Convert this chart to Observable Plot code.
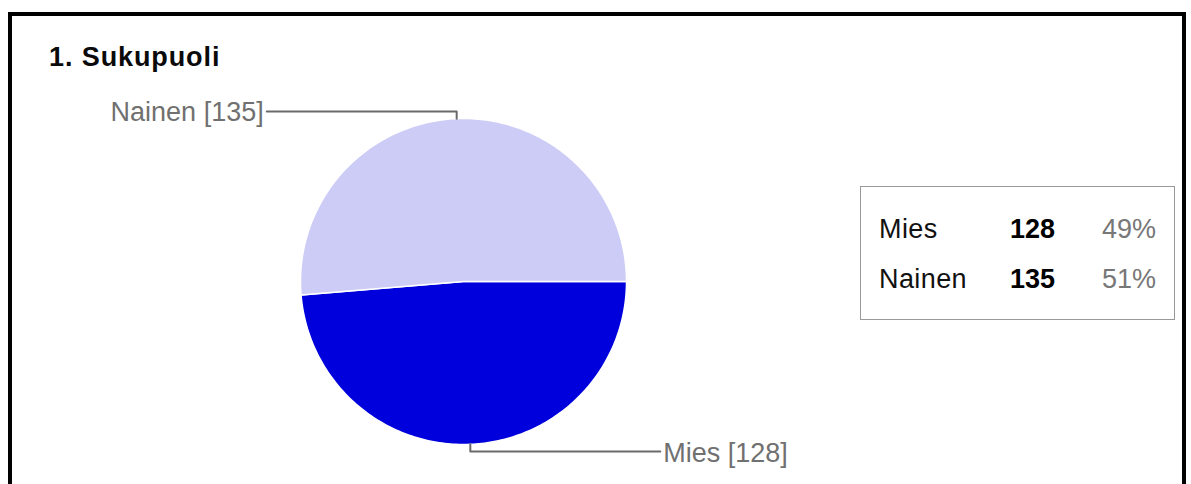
<!DOCTYPE html>
<html>
<head>
<meta charset="utf-8">
<script src="https://cdn.jsdelivr.net/npm/d3@7"></script>
<script src="https://cdn.jsdelivr.net/npm/@observablehq/plot@0.6"></script>
<style>
  html, body { margin: 0; padding: 0; background: #fff; }
  body { width: 1191px; height: 484px; overflow: hidden; position: relative; font-family: "Liberation Sans", Arial, sans-serif; }
  #frame { position: absolute; left: 8px; top: 12px; width: 1170px; height: 500px; border: 4px solid #000; border-bottom: none; }
  #title { position: absolute; left: 49px; top: 42px; font-size: 27px; font-weight: bold; color: #0a0a0a; letter-spacing: 0.9px; white-space: nowrap; }
  #chart { position: absolute; left: 0; top: 0; }
  #legend { position: absolute; left: 860px; top: 186px; width: 313px; height: 132px; border: 1px solid #999; background: #fff; }
  #legend table { position: absolute; left: 18px; top: 17px; border-collapse: collapse; font-size: 27px; }
  #legend td { padding: 0; height: 50px; white-space: nowrap; }
  #legend td.n { color: #111; width: 120px; letter-spacing: 0.4px; }
  #legend td.v { font-weight: bold; color: #000; text-align: right; width: 56px; }
  #legend td.p { color: #777; text-align: right; width: 101px; }
</style>
</head>
<body>
<div id="frame"></div>
<div id="title">1. Sukupuoli</div>
<div id="chart"></div>
<div id="legend"></div>
<script>
// ---- data ----
const categories = ["Mies", "Nainen"];
const counts = [128, 135];
const colors = ["#0000dd", "#ccccf6"];

// ---- layout ----
const W = 1191, H = 484;
const cx = 463, cy = 281, R = 163; // pie centre and radius in pixels

const total = d3.sum(counts);
// slices clockwise from 3 o'clock (math angle 0, decreasing)
let acc = 0;
const slices = categories.map((name, i) => {
  const a0 = -acc / total * 2 * Math.PI;
  acc += counts[i];
  const a1 = -acc / total * 2 * Math.PI;
  return {name, value: counts[i], color: colors[i], a0, a1, mid: (a0 + a1) / 2};
});

// polygon vertices for each slice (centre + arc)
function slicePoints(s) {
  const n = Math.max(2, Math.ceil(Math.abs(s.a1 - s.a0) / (Math.PI / 180)));
  const pts = [{x: 0, y: 0}];
  for (let k = 0; k <= n; k++) {
    const a = s.a0 + (s.a1 - s.a0) * k / n;
    pts.push({x: Math.cos(a), y: Math.sin(a)});
  }
  return pts;
}

// leader lines: from mid-angle point on circle, vertical to elbow, then horizontal outward
const elbowR = 170 / R, runLen = 190 / R;
const leaders = slices.map(s => {
  const ax = Math.cos(s.mid), ay = Math.sin(s.mid);
  const sy = Math.sign(ay), sx = ax < 0 ? -1 : 1;
  return {
    name: s.name, value: s.value, sx,
    pts: [{x: ax, y: ay}, {x: ax, y: sy * elbowR}, {x: ax + sx * runLen, y: sy * elbowR}],
    tx: ax + sx * (runLen + 3 / R), ty: sy * elbowR
  };
});
const leftLabels = leaders.filter(l => l.sx < 0);
const rightLabels = leaders.filter(l => l.sx > 0);
const labelText = d => `${d.name} [${d.value}]`;

const plot = Plot.plot({
  width: W, height: H,
  margin: 0,
  x: {domain: [-cx / R, (W - cx) / R], range: [0, W], axis: null},
  y: {domain: [-(H - cy) / R, cy / R], range: [H, 0], axis: null},
  style: {background: "transparent", fontFamily: "Liberation Sans, Arial, sans-serif"},
  marks: [
    ...slices.map(s => Plot.line(slicePoints(s), {x: "x", y: "y", curve: "linear-closed", fill: s.color, stroke: "#fff", strokeWidth: 1.5})),
    ...leaders.map(l => Plot.line(l.pts, {x: "x", y: "y", stroke: "#6a6a6a", strokeWidth: 2})),
    Plot.text(leftLabels, {x: "tx", y: "ty", text: labelText, textAnchor: "end", fill: "#707070", fontSize: 27, dy: 1}),
    Plot.text(rightLabels, {x: "tx", y: "ty", text: labelText, textAnchor: "start", fill: "#707070", fontSize: 27, dy: 2})
  ]
});
document.getElementById("chart").appendChild(plot);

// legend
const tbl = document.createElement("table");
slices.forEach(s => {
  const tr = document.createElement("tr");
  const pct = Math.round(s.value / total * 100) + "%";
  tr.innerHTML = `<td class="n">${s.name}</td><td class="v">${s.value}</td><td class="p">${pct}</td>`;
  tbl.appendChild(tr);
});
document.getElementById("legend").appendChild(tbl);
</script>
</body>
</html>
